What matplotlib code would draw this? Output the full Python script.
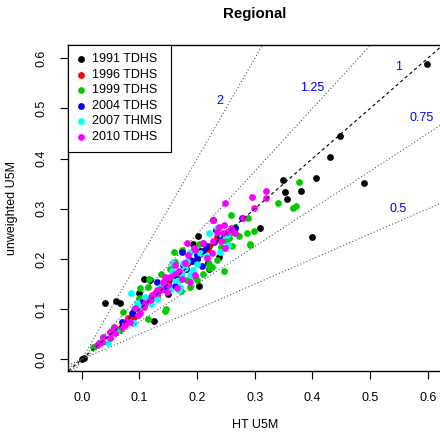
import matplotlib
matplotlib.use("Agg")
import matplotlib.pyplot as plt

plt.rcParams['font.family'] = ['Liberation Sans', 'DejaVu Sans']

labels = ["1991 TDHS", "1996 TDHS", "1999 TDHS", "2004 TDHS", "2007 THMIS", "2010 TDHS"]
colors = ["#000000", "#FF0000", "#00CD00", "#0000FF", "#00FFFF", "#FF00FF"]

x1991 = [0.0, 0.598, 0.448, 0.430, 0.406, 0.349, 0.352, 0.355, 0.380, 0.490, 0.309, 0.399, 0.202, 0.192,
         0.205, 0.238, 0.218, 0.204, 0.108, 0.118, 0.100, 0.040, 0.059, 0.066, 0.125, 0.228, 0.220, 0.232, 0.149, 0.003]
y1991 = [0.0, 0.589, 0.445, 0.403, 0.362, 0.358, 0.334, 0.320, 0.335, 0.351, 0.262, 0.244, 0.246, 0.230,
         0.216, 0.203, 0.191, 0.146, 0.160, 0.159, 0.133, 0.112, 0.117, 0.113, 0.076, 0.278, 0.179, 0.258, 0.130, 0.002]

x1996 = [0.218, 0.234, 0.06, 0.10, 0.12, 0.14, 0.16, 0.18, 0.20, 0.22, 0.09, 0.15, 0.17, 0.13, 0.19, 0.25, 0.11, 0.08, 0.205]
y1996 = [0.220, 0.244, 0.06, 0.10, 0.12, 0.14, 0.16, 0.18, 0.20, 0.225, 0.085, 0.155, 0.165, 0.128, 0.195, 0.25, 0.112, 0.082, 0.21]

x1999 = [0.377, 0.340, 0.367, 0.371, 0.298, 0.292, 0.258, 0.289, 0.272, 0.286, 0.291, 0.251, 0.234, 0.226,
         0.211, 0.160, 0.162, 0.153, 0.137, 0.117, 0.101, 0.114, 0.146, 0.114, 0.072, 0.099, 0.188, 0.199,
         0.185, 0.220, 0.020, 0.066, 0.256, 0.144, 0.160, 0.150, 0.173, 0.203, 0.250, 0.260, 0.241, 0.221,
         0.247, 0.211, 0.196, 0.182, 0.172, 0.266, 0.257, 0.130, 0.090, 0.050]
y1999 = [0.353, 0.312, 0.302, 0.305, 0.255, 0.228, 0.288, 0.281, 0.246, 0.252, 0.229, 0.246, 0.198, 0.183,
         0.231, 0.214, 0.193, 0.179, 0.170, 0.161, 0.142, 0.144, 0.100, 0.080, 0.095, 0.122, 0.145, 0.158,
         0.158, 0.181, 0.025, 0.058, 0.241, 0.097, 0.173, 0.150, 0.218, 0.230, 0.236, 0.226, 0.223, 0.189,
         0.175, 0.171, 0.165, 0.158, 0.137, 0.263, 0.251, 0.125, 0.100, 0.055]

x2004 = [0.277, 0.263, 0.265, 0.173, 0.191, 0.208, 0.130, 0.162, 0.145, 0.087, 0.104, 0.055, 0.229, 0.216,
         0.188, 0.199, 0.176, 0.162, 0.136, 0.240, 0.120, 0.150, 0.180, 0.070, 0.200, 0.210]
y2004 = [0.281, 0.259, 0.261, 0.214, 0.195, 0.185, 0.155, 0.146, 0.142, 0.092, 0.115, 0.062, 0.234, 0.226,
         0.198, 0.208, 0.188, 0.165, 0.138, 0.245, 0.125, 0.150, 0.180, 0.075, 0.200, 0.215]

x2007 = [0.085, 0.169, 0.254, 0.240, 0.192, 0.176, 0.170, 0.156, 0.136, 0.101, 0.087, 0.037, 0.046, 0.188,
         0.179, 0.173, 0.162, 0.188, 0.170, 0.153, 0.182, 0.205, 0.234, 0.220, 0.243, 0.252, 0.156, 0.091,
         0.095, 0.110, 0.120, 0.130, 0.060, 0.075, 0.140, 0.200, 0.215]
y2007 = [0.132, 0.138, 0.228, 0.214, 0.178, 0.191, 0.158, 0.175, 0.145, 0.105, 0.072, 0.045, 0.032, 0.214,
         0.181, 0.171, 0.158, 0.168, 0.145, 0.138, 0.195, 0.211, 0.261, 0.251, 0.248, 0.248, 0.191, 0.072,
         0.112, 0.125, 0.110, 0.120, 0.055, 0.070, 0.155, 0.190, 0.205]

x2010 = [0.319, 0.296, 0.320, 0.248, 0.228, 0.246, 0.280, 0.234, 0.196, 0.185, 0.179, 0.162, 0.144, 0.130,
         0.118, 0.107, 0.092, 0.101, 0.078, 0.075, 0.055, 0.049, 0.037, 0.029, 0.196, 0.188, 0.153, 0.299,
         0.238, 0.244, 0.210, 0.248, 0.258, 0.251, 0.242, 0.228, 0.266, 0.225, 0.194, 0.182, 0.217, 0.162,
         0.168, 0.173, 0.150, 0.165, 0.130, 0.121, 0.141, 0.127, 0.098, 0.084, 0.069, 0.058, 0.049, 0.035,
         0.026, 0.147, 0.110, 0.138]
y2010 = [0.335, 0.323, 0.321, 0.312, 0.278, 0.268, 0.281, 0.254, 0.218, 0.208, 0.191, 0.171, 0.165, 0.132,
         0.118, 0.105, 0.102, 0.092, 0.078, 0.068, 0.065, 0.055, 0.045, 0.033, 0.168, 0.155, 0.165, 0.301,
         0.264, 0.251, 0.232, 0.221, 0.261, 0.254, 0.236, 0.236, 0.251, 0.211, 0.221, 0.231, 0.201, 0.188,
         0.175, 0.161, 0.148, 0.142, 0.138, 0.128, 0.155, 0.132, 0.088, 0.075, 0.065, 0.052, 0.042, 0.035,
         0.029, 0.135, 0.112, 0.140]

xs = [x1991, x1996, x1999, x2004, x2007, x2010]
ys = [y1991, y1996, y1999, y2004, y2007, y2010]

slopes = [2, 1.25, 1, 0.75, 0.5]
slope_labels = ["2", "1.25", "1", "0.75", "0.5"]
label_x = [0.24, 0.40, 0.549, 0.589, 0.549]
label_y = [0.515, 0.541, 0.583, 0.481, 0.30]

fig = plt.figure(figsize=(4.4, 4.33), dpi=100)
ax = fig.add_axes([68/440, 62/433, (441.6-68)/440, (388.3-62)/433])

for x, y, c, lab in zip(xs, ys, colors, labels):
    ax.scatter(x, y, s=24, color=c, linewidths=0, label=lab, zorder=2)

for s in slopes:
    if s == 1:
        ax.axline((0, 0), slope=s, color='black', lw=0.8, linestyle=(0, (3, 2.5)), zorder=3)
    else:
        ax.axline((0, 0), slope=s, color='#555555', lw=0.8, linestyle=(0, (1, 2)), zorder=3)

for t, lx, ly in zip(slope_labels, label_x, label_y):
    ax.text(lx, ly, t, color='#0000FF', fontsize=9, ha='center', va='center', zorder=4)

ax.set_xlim(-0.024, 0.624)
ax.set_ylim(-0.0233, 0.627)
ticks = [0.0, 0.1, 0.2, 0.3, 0.4, 0.5, 0.6]
ax.set_xticks(ticks)
ax.set_yticks(ticks)
ax.set_xticklabels([f"{t:.1f}" for t in ticks], fontsize=9)
ax.set_yticklabels([f"{t:.1f}" for t in ticks], fontsize=9, rotation=90, va='center')
ax.tick_params(direction='out', length=6, width=0.8, pad=9)
for sp in ax.spines.values():
    sp.set_linewidth(1.0)

ax.set_xlabel("HT U5M", fontsize=9, labelpad=11)
ax.set_ylabel("unweighted U5M", fontsize=9, labelpad=12)
ax.set_title("Regional", fontsize=10.8, fontweight='bold', pad=19)

leg = ax.legend(loc='upper left', bbox_to_anchor=(0, 1), borderaxespad=0, fontsize=9,
                frameon=True, fancybox=False, edgecolor='black', handlelength=0.6,
                handletextpad=0.6, labelspacing=0.28, borderpad=0.7, markerscale=1.0)
leg.get_frame().set_linewidth(0.8)
leg.get_frame().set_alpha(1)

fig.savefig("out.png", dpi=100)
